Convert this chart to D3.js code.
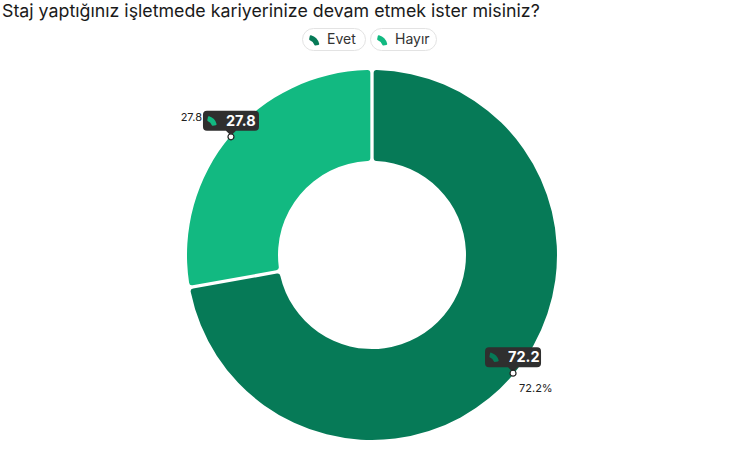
<!DOCTYPE html>
<html>
<head>
<meta charset="utf-8">
<script src="https://cdn.jsdelivr.net/npm/d3@7"></script>
<style>
  body { margin: 0; background: #fff; font-family: Inter, "Noto Sans", sans-serif; }
</style>
</head>
<body>
<svg id="chart" width="739" height="449"></svg>
<script>
const categories = ["Evet", "Hayır"];
const values = [72.2, 27.8];
const colors = ["#067a57", "#12b981"];

var svg = d3.select("#chart"),
	cx = 372, cy = 255,
	outerR = 185, innerR = 94;

// title
svg.append("text")
	.attr("x", 2)
	.attr("y", 17)
	.attr("font-size", "17.8px")
	.attr("fill", "#1a1a1a")
	.text("Staj yaptığınız işletmede kariyerinize devam etmek ister misiniz?");

var pie = d3.pie().sort(null).value(d => d)(values);

var arc = d3.arc()
	.innerRadius(innerR)
	.outerRadius(outerR)
	.cornerRadius(3)
	.padAngle(0.016);

// little donut piece used as legend / tooltip marker
var legendIcon = d3.arc().innerRadius(7).outerRadius(12).cornerRadius(1)({startAngle: 0.2, endAngle: 1.4});
var tipIcon = d3.arc().innerRadius(6).outerRadius(11).cornerRadius(1)({startAngle: 0.2, endAngle: 1.4});

// legend
var legendX = [302, 370], legendW = [63, 66];
categories.forEach((c, i) => {
	var g = svg.append("g").attr("transform", `translate(${legendX[i]},28)`);
	g.append("rect")
		.attr("x", 0.5).attr("y", 0.5)
		.attr("width", legendW[i]).attr("height", 22)
		.attr("rx", 11)
		.attr("fill", "#fff")
		.attr("stroke", "#e3e3e3");
	g.append("path")
		.attr("transform", "translate(5.6,18.8)")
		.attr("d", legendIcon)
		.attr("fill", colors[i]);
	g.append("text")
		.attr("x", 25).attr("y", 16)
		.attr("font-size", "14px")
		.attr("fill", "#333")
		.text(c);
});

// slices
svg.append("g")
	.attr("transform", `translate(${cx},${cy})`)
	.selectAll("path")
	.data(pie)
	.enter()
	.append("path")
	.attr("d", arc)
	.attr("fill", (d, i) => colors[i]);

// tooltips and labels
pie.forEach((d, i) => {
	var mid = (d.startAngle + d.endAngle) / 2,
		r = 184,
		px = cx + r * Math.sin(mid),
		py = cy - r * Math.cos(mid);

	var g = svg.append("g").attr("transform", `translate(${px},${py})`);
	var bw = 56, bh = 20, top = -26;
	g.append("path")
		.attr("d", `M${-bw/2 + 4},${top} h${bw - 8} a4,4 0 0 1 4,4 v${bh - 8} a4,4 0 0 1 -4,4 h${-(bw/2 - 9)} l-5,5 l-5,-5 h${-(bw/2 - 9)} a4,4 0 0 1 -4,-4 v${-(bh - 8)} a4,4 0 0 1 4,-4 z`)
		.attr("fill", "#2f2f2f");
	g.append("path")
		.attr("transform", `translate(${-bw/2 + 3},${top + 16})`)
		.attr("d", tipIcon)
		.attr("fill", colors[i]);
	g.append("text")
		.attr("x", -bw/2 + 23)
		.attr("y", top + 15)
		.attr("font-size", "14.5px")
		.attr("font-weight", "bold")
		.attr("fill", "#fff")
		.text(values[i]);
	g.append("circle")
		.attr("r", 3)
		.attr("fill", "#fff")
		.attr("stroke", "#222")
		.attr("stroke-width", 1.2);

	var right = Math.sin(mid) > 0;
	svg.append("text")
		.attr("x", right ? px + 6 : px - 29)
		.attr("y", right ? py + 19 : py - 16)
		.attr("text-anchor", right ? "start" : "end")
		.attr("font-size", "11px")
		.attr("fill", "#222")
		.text(right ? values[i] + "%" : values[i]);
});
</script>
</body>
</html>
